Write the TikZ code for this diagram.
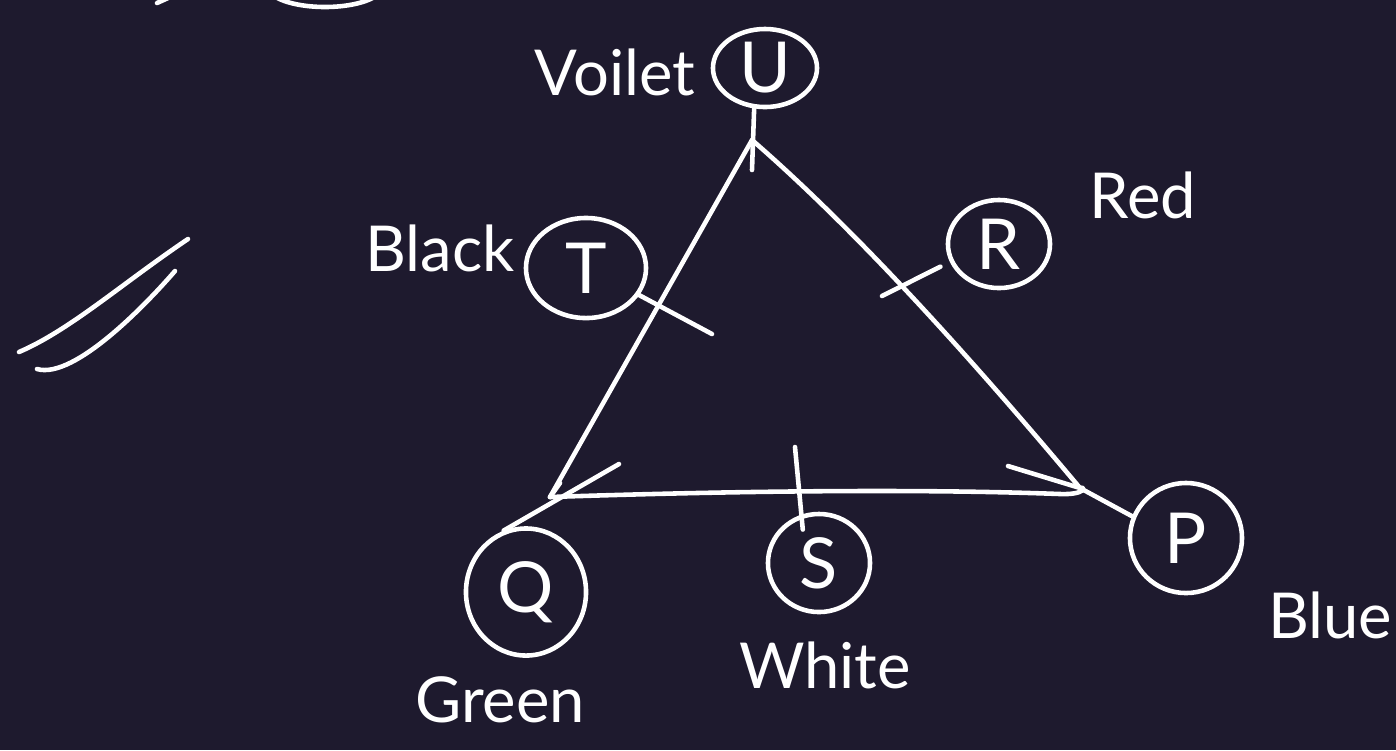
\documentclass[tikz,border=0pt]{standalone}
\usepackage{fontspec}
\setmainfont{Lato}
\usetikzlibrary{positioning}
\usetikzlibrary{shapes.geometric}
\definecolor{board}{RGB}{30,26,46}
\tikzset{
    chalk/.style={draw=white, line width=1.3pt, line cap=round, line join=round},
    dot/.style={ellipse, chalk, text=white, inner sep=0pt, font=\fontsize{20}{22}\selectfont},
    tag/.style={text=white, inner sep=0pt, font=\fontsize{18}{20}\selectfont},
}

\begin{document}
\begin{tikzpicture}[x=0.01cm, y=-0.01cm]
    \fill[board] (0,0) rectangle (1396,750);
    \useasboundingbox (0,0) rectangle (1396,750);
    \clip (0,0) rectangle (1396,750);

    % leftovers at the top and the double stroke
    \draw[chalk] (325,-14) ellipse [x radius=58, y radius=21];
    \draw[chalk] (157,3) -- (168,-2);
    \draw[chalk] (19,352) .. controls (70,330) and (120,285) .. (188,239);
    \draw[chalk] (37,369) .. controls (75,380) and (150,300) .. (175,271);

    % colour nodes
    \node[dot, minimum width=1.04cm, minimum height=0.78cm] (U) at (765,68) {U};
    \node[dot, minimum width=1.2cm, minimum height=1.0cm] (T) at (586,268) {T};
    \node[dot, minimum width=1.02cm, minimum height=0.88cm] (R) at (999,244) {R};
    \node[dot, minimum width=1.2cm, minimum height=1.27cm] (Q) at (526,592) {Q};
    \node[dot, minimum width=1.02cm, minimum height=0.98cm] (S) at (819,563) {S};
    \node[dot, minimum width=1.12cm, minimum height=1.1cm] (P) at (1186,538) {P};

    \node[tag] (voilet) at (615,72) {Voilet};
    \node[tag] (black) at (440,248) {Black};
    \node[tag] (red) at (1143,195) {Red};
    \node[tag] (green) at (500,700) {Green};
    \node[tag] (white) at (825,665) {White};
    \node[tag] (blue) at (1330,615) {Blue};

    % triangle
    \coordinate (apex) at (752,140);
    \coordinate (lv) at (550,497);
    \coordinate (rv) at (1080,488);
    \draw[chalk] (apex) -- (lv);
    \draw[chalk] (apex) .. controls (850,225) and (960,345) .. (rv);
    \draw[chalk] (lv) .. controls (700,492) and (900,488) .. (1060,494)
        .. controls (1086,495) and (1086,486) .. (rv);
    \coordinate (lbarb) at (560,483);
    \coordinate (rbarb) at (1008,466);
    \draw[chalk] (lbarb) -- (lv);
    \draw[chalk] (rbarb) -- (rv);

    % ticks to the sides
    \coordinate (ustop) at (752,170);
    \coordinate (tstop) at (712,334);
    \coordinate (rstop) at (882,296);
    \coordinate (sstop) at (795,447);
    \coordinate (qstop) at (619,464);
    \draw[chalk] (U.255) -- (ustop);
    \draw[chalk] (T.-27) -- (tstop);
    \draw[chalk, shorten <=3pt] (R.200) -- (rstop);
    \draw[chalk, shorten >=-0.15cm] (sstop) -- (S.110);
    \draw[chalk] (qstop) -- (Q.110);
    \draw[chalk] (rv) -- (P.158);
\end{tikzpicture}
\end{document}
